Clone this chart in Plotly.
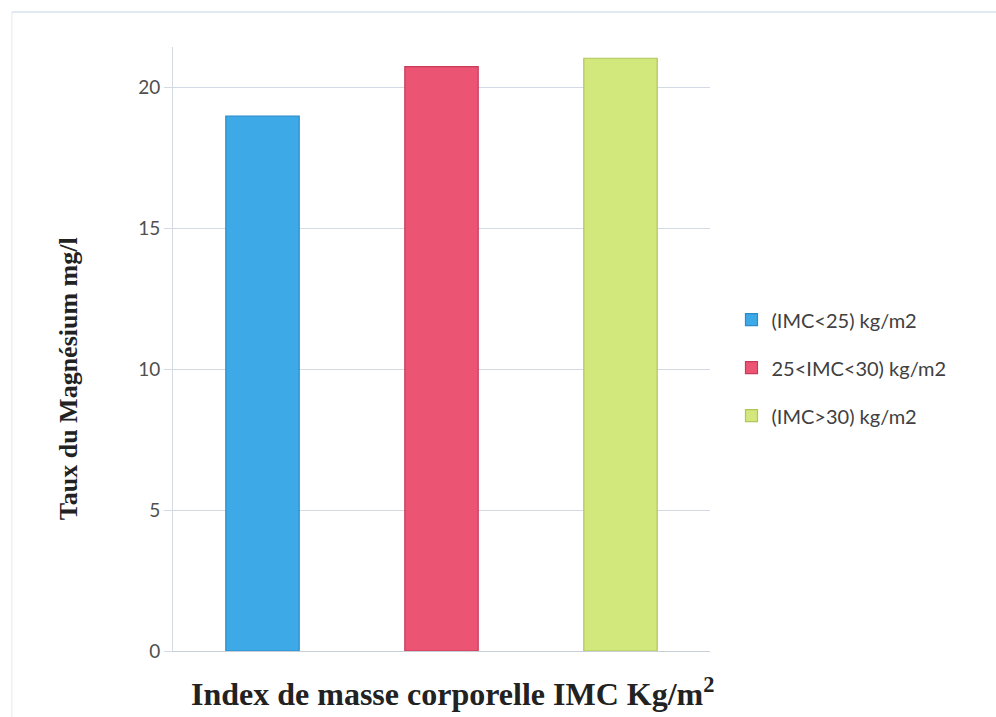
import plotly.graph_objects as go

# IMC groups and mean magnesium levels (mg/l)
groups = ["(IMC<25) kg/m2", "25<IMC<30) kg/m2", "(IMC>30) kg/m2"]
magnesium = [19.0, 20.75, 21.05]
fill_colors = ["#3DA9E6", "#EC5473", "#D3E87C"]
edge_colors = ["#2A8CC8", "#C83A58", "#AFC65A"]

y_ticks = [0, 5, 10, 15, 20]

x_title = "<b>Index de masse corporelle IMC Kg/m<sup>2</sup></b>"
y_title = "<b>Taux du Magnésium mg/l</b>"
title_font = "Liberation Serif, Times New Roman, serif"

fig = go.Figure()
for name, val, fc, ec in zip(groups, magnesium, fill_colors, edge_colors):
    fig.add_trace(go.Bar(
        x=[name], y=[val], name=name, legendgroup=name,
        width=0.41,
        marker=dict(color=fc, line=dict(color=ec, width=1.2)),
    ))

fig.update_layout(
    width=996, height=717,
    paper_bgcolor="white", plot_bgcolor="white",
    margin=dict(l=173, r=286, t=47, b=66),
    barmode="overlay",
    showlegend=True,
    legend=dict(
        x=1.04, y=0.469, xanchor="left", yanchor="middle",
        font=dict(family="Lato, Open Sans, sans-serif", size=20, color="#404040"),
        tracegroupgap=19, itemwidth=30, bgcolor="rgba(0,0,0,0)",
    ),
    xaxis=dict(
        showticklabels=False, showgrid=False, ticks="",
        showline=True, linecolor="#C8CED8", linewidth=1,
    ),
    yaxis=dict(
        range=[0, 21.45], tickvals=y_ticks,
        showgrid=True, gridcolor="#D4DAE4", gridwidth=1,
        zeroline=False,
        showline=True, linecolor="#D4DAE4", linewidth=1,
        ticks="outside", ticklen=8, tickcolor="#D4DAE4",
        tickfont=dict(family="Lato, Open Sans, sans-serif", size=19, color="#505050"),
    ),
)

# axis titles as annotations for precise placement
fig.add_annotation(text=x_title, xref="paper", yref="paper",
                   x=0.52, y=-0.068, xanchor="center", yanchor="middle",
                   showarrow=False,
                   font=dict(family=title_font, size=32, color="#222222"))
fig.add_annotation(text=y_title, xref="paper", yref="paper",
                   x=-0.1955, y=0.45, xanchor="center", yanchor="middle",
                   textangle=-90, showarrow=False,
                   font=dict(family=title_font, size=26, color="#222222"))

# faint outer frame of the chart area
fig.add_shape(type="line", xref="paper", yref="paper",
              x0=-0.3, x1=1.55, y0=1.058, y1=1.058,
              line=dict(color="#D8E2EE", width=1.5))
fig.add_shape(type="line", xref="paper", yref="paper",
              x0=-0.3, x1=-0.3, y0=-0.2, y1=1.058,
              line=dict(color="#E4EAF2", width=1))

fig.write_html("out.html")
